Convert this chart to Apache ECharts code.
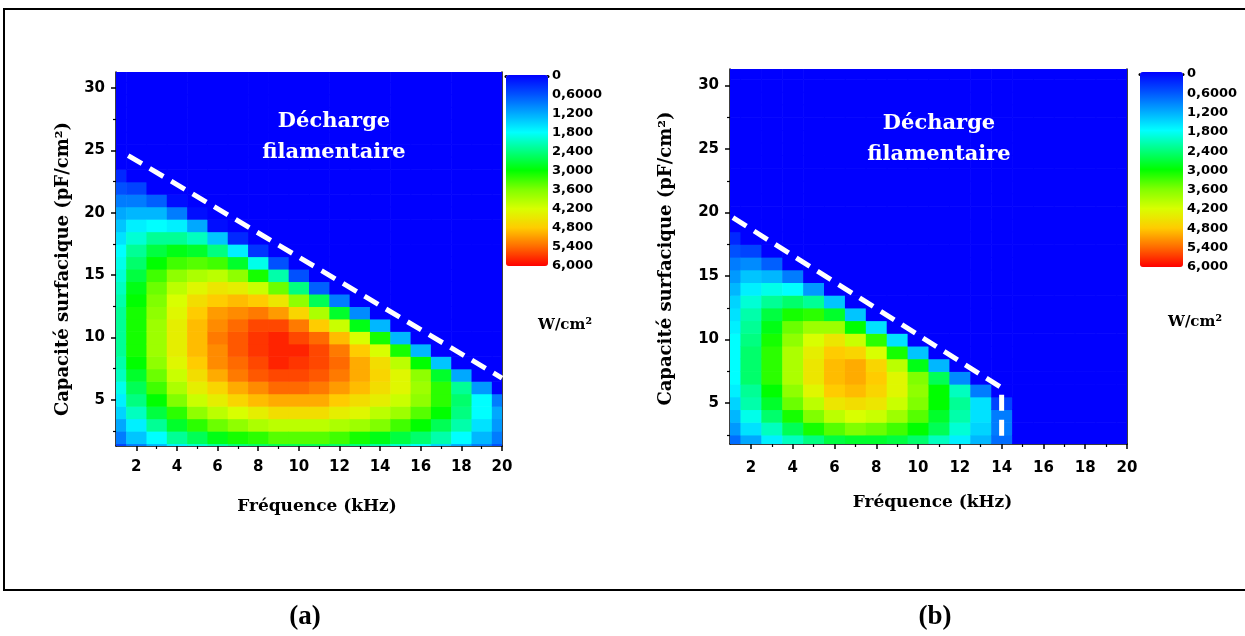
<!DOCTYPE html>
<html><head><meta charset="utf-8">
<script src="https://cdn.jsdelivr.net/npm/echarts@6/dist/echarts.min.js"></script>
<style>html,body{margin:0;padding:0;background:#fff}#c{width:1245px;height:636px}</style>
</head><body><div id="c"></div>
<script>
// Frequency (kHz) cell centres and surface capacitance (pF/cm²) cell centres
const freqCells = [1,2,3,4,5,6,7,8,9,10,11,12,13,14,15,16,17,18,19,20];
const capCells = [1,2,3,4,5,6,7,8,9,10,11,12,13,14,15,16,17,18,19,20,21,22,23,24,25,26,27,28,29,30,31];

// Power density (W/cm²), panel (a): one array per frequency column, values for capacitance 1..31
const powerA = [
  [0.5,0.9,1.2,1.5,1.7,1.9,2.1,2.2,2.3,2.3,2.3,2.3,2.2,2.1,2.0,1.9,1.8,1.6,1.4,1.2,0.9,0.6,0.3,0,0,0,0,0,0,0,0],
  [0.9,1.4,1.7,2.1,2.4,2.6,2.8,3.0,3.1,3.1,3.1,3.1,3.0,2.9,2.7,2.5,2.3,2.0,1.7,1.3,0.9,0.5,0,0,0,0,0,0,0,0,0],
  [1.3,1.8,2.3,2.7,3.0,3.3,3.5,3.7,3.8,3.8,3.8,3.7,3.6,3.5,3.3,3.0,2.7,2.3,1.8,1.3,0.7,0,0,0,0,0,0,0,0,0,0],
  [1.7,2.3,2.8,3.2,3.6,3.9,4.1,4.3,4.4,4.4,4.4,4.3,4.2,4.0,3.7,3.3,2.9,2.3,1.7,0.9,0.1,0,0,0,0,0,0,0,0,0,0],
  [2.0,2.6,3.2,3.7,4.1,4.4,4.6,4.8,4.9,4.9,4.9,4.8,4.6,4.3,3.9,3.4,2.8,2.1,1.2,0.1,0,0,0,0,0,0,0,0,0,0,0],
  [2.2,2.9,3.5,4.0,4.4,4.7,5.0,5.2,5.2,5.3,5.2,5.1,4.8,4.5,4.0,3.3,2.4,1.4,0.1,0,0,0,0,0,0,0,0,0,0,0,0],
  [2.4,3.1,3.7,4.2,4.7,5.0,5.3,5.4,5.5,5.5,5.4,5.2,4.9,4.4,3.7,2.8,1.7,0.3,0,0,0,0,0,0,0,0,0,0,0,0,0],
  [2.5,3.2,3.9,4.4,4.9,5.2,5.5,5.6,5.7,5.7,5.6,5.3,4.8,4.1,3.1,1.9,0.4,0,0,0,0,0,0,0,0,0,0,0,0,0,0],
  [2.6,3.4,4.0,4.6,5.0,5.4,5.6,5.8,5.8,5.8,5.6,5.1,4.5,3.5,2.2,0.6,0,0,0,0,0,0,0,0,0,0,0,0,0,0,0],
  [2.6,3.4,4.0,4.6,5.0,5.4,5.6,5.7,5.8,5.6,5.3,4.7,3.7,2.4,0.6,0,0,0,0,0,0,0,0,0,0,0,0,0,0,0,0],
  [2.6,3.4,4.0,4.6,5.0,5.3,5.5,5.6,5.6,5.4,4.8,3.9,2.6,0.7,0,0,0,0,0,0,0,0,0,0,0,0,0,0,0,0,0],
  [2.5,3.3,3.9,4.4,4.8,5.1,5.3,5.4,5.3,4.9,4.1,2.8,0.9,0,0,0,0,0,0,0,0,0,0,0,0,0,0,0,0,0,0],
  [2.4,3.1,3.8,4.3,4.6,4.9,5.0,5.0,4.8,4.2,2.9,1.0,0,0,0,0,0,0,0,0,0,0,0,0,0,0,0,0,0,0,0],
  [2.2,2.9,3.6,4.0,4.4,4.6,4.7,4.6,4.2,3.1,1.3,0,0,0,0,0,0,0,0,0,0,0,0,0,0,0,0,0,0,0,0],
  [2.0,2.7,3.3,3.8,4.1,4.3,4.3,4.0,3.1,1.3,0,0,0,0,0,0,0,0,0,0,0,0,0,0,0,0,0,0,0,0,0],
  [1.8,2.5,3.0,3.4,3.7,3.8,3.7,3.0,1.3,0,0,0,0,0,0,0,0,0,0,0,0,0,0,0,0,0,0,0,0,0,0],
  [1.5,2.2,2.6,3.0,3.2,3.2,2.8,1.4,0,0,0,0,0,0,0,0,0,0,0,0,0,0,0,0,0,0,0,0,0,0,0],
  [1.2,1.8,2.2,2.4,2.5,2.3,1.2,0,0,0,0,0,0,0,0,0,0,0,0,0,0,0,0,0,0,0,0,0,0,0,0],
  [0.9,1.3,1.6,1.8,1.8,1.1,0,0,0,0,0,0,0,0,0,0,0,0,0,0,0,0,0,0,0,0,0,0,0,0,0],
  [0.6,0.9,1.1,1.2,0.9,0,0,0,0,0,0,0,0,0,0,0,0,0,0,0,0,0,0,0,0,0,0,0,0,0,0]
];

// Power density (W/cm²), panel (b)
const powerB = [
  [0.5,0.8,1.1,1.3,1.5,1.7,1.8,1.8,1.8,1.8,1.7,1.6,1.5,1.3,1.1,0.9,0.6,0.3,0,0,0,0,0,0,0,0,0,0,0,0,0],
  [0.8,1.2,1.6,1.9,2.2,2.3,2.5,2.5,2.5,2.4,2.3,2.2,2.0,1.7,1.4,1.0,0.5,0,0,0,0,0,0,0,0,0,0,0,0,0,0],
  [1.1,1.7,2.1,2.5,2.8,3.0,3.2,3.2,3.2,3.1,2.9,2.7,2.3,1.9,1.3,0.7,0,0,0,0,0,0,0,0,0,0,0,0,0,0,0],
  [1.4,2.1,2.6,3.1,3.5,3.7,3.9,3.9,3.9,3.7,3.5,3.1,2.5,1.8,0.9,0,0,0,0,0,0,0,0,0,0,0,0,0,0,0,0],
  [1.6,2.4,3.1,3.6,4.0,4.3,4.5,4.5,4.4,4.2,3.8,3.2,2.3,1.1,0,0,0,0,0,0,0,0,0,0,0,0,0,0,0,0,0],
  [1.8,2.7,3.4,4.0,4.5,4.8,4.9,4.9,4.8,4.5,3.8,2.8,1.4,0,0,0,0,0,0,0,0,0,0,0,0,0,0,0,0,0,0],
  [1.9,2.8,3.6,4.2,4.6,4.9,5.0,5.0,4.7,4.1,3.0,1.4,0,0,0,0,0,0,0,0,0,0,0,0,0,0,0,0,0,0,0],
  [1.9,2.8,3.5,4.1,4.5,4.7,4.8,4.7,4.2,3.2,1.6,0,0,0,0,0,0,0,0,0,0,0,0,0,0,0,0,0,0,0,0],
  [1.9,2.7,3.3,3.8,4.1,4.3,4.3,4.0,3.1,1.6,0,0,0,0,0,0,0,0,0,0,0,0,0,0,0,0,0,0,0,0,0],
  [1.8,2.5,3.0,3.4,3.6,3.7,3.6,2.9,1.4,0,0,0,0,0,0,0,0,0,0,0,0,0,0,0,0,0,0,0,0,0,0],
  [1.6,2.1,2.6,2.8,3.0,3.0,2.6,1.3,0,0,0,0,0,0,0,0,0,0,0,0,0,0,0,0,0,0,0,0,0,0,0],
  [1.3,1.7,2.0,2.2,2.3,2.1,1.0,0,0,0,0,0,0,0,0,0,0,0,0,0,0,0,0,0,0,0,0,0,0,0,0],
  [1.0,1.3,1.5,1.6,1.6,0.9,0,0,0,0,0,0,0,0,0,0,0,0,0,0,0,0,0,0,0,0,0,0,0,0,0],
  [0.6,0.8,0.9,0.9,0.5,0,0,0,0,0,0,0,0,0,0,0,0,0,0,0,0,0,0,0,0,0,0,0,0,0,0],
  [0,0,0,0,0,0,0,0,0,0,0,0,0,0,0,0,0,0,0,0,0,0,0,0,0,0,0,0,0,0,0],
  [0,0,0,0,0,0,0,0,0,0,0,0,0,0,0,0,0,0,0,0,0,0,0,0,0,0,0,0,0,0,0],
  [0,0,0,0,0,0,0,0,0,0,0,0,0,0,0,0,0,0,0,0,0,0,0,0,0,0,0,0,0,0,0],
  [0,0,0,0,0,0,0,0,0,0,0,0,0,0,0,0,0,0,0,0,0,0,0,0,0,0,0,0,0,0,0],
  [0,0,0,0,0,0,0,0,0,0,0,0,0,0,0,0,0,0,0,0,0,0,0,0,0,0,0,0,0,0,0],
  [0,0,0,0,0,0,0,0,0,0,0,0,0,0,0,0,0,0,0,0,0,0,0,0,0,0,0,0,0,0,0]
];

// Dashed discharge boundaries [frequency, capacitance]
const boundaryA = [[1.6, 24.6], [20, 6.75]];
const boundaryB = [[1.14, 19.6], [14, 6.2], [14, 1.78]];

// Tick values and labels
const xTicks = [2,4,6,8,10,12,14,16,18,20];
const xMinorTicks = [3,5,7,9,11,13,15,17,19];
const yTicks = [5,10,15,20,25,30];
const yMinorTicks = [2.5,7.5,12.5,17.5,22.5,27.5];
const cbValues = [0,0.6,1.2,1.8,2.4,3.0,3.6,4.2,4.8,5.4,6.0];
const cbLabels = ['0','0,6000','1,200','1,800','2,400','3,000','3,600','4,200','4,800','5,400','6,000'];
const colorStops = ['#0000ff','#0050ff','#00a8ff','#00ffff','#00ff80','#00ff00','#80ff00','#d8ff00','#ffcc00','#ff6a00','#ff0000'];

function cells(cols) {
  const out = [];
  cols.forEach((col, i) => col.forEach((v, j) => out.push([freqCells[i], capCells[j], v])));
  return out;
}

const tickFont = {fontFamily: 'DejaVu Sans', fontWeight: 'bold', fontSize: 15, color: '#000'};
const xNameFont = {fontFamily: 'DejaVu Serif', fontWeight: 'bold', fontSize: 17, color: '#000'};
const yNameFont = {fontFamily: 'DejaVu Serif', fontWeight: 'bold', fontSize: 18, color: '#000'};
const blackLine = {show: true, lineStyle: {color: '#000', width: 1.5}};

function mainX(grid, margin, gap, pad) {
  return [
    {gridIndex: grid, type: 'value', min: 1, max: 20, position: 'bottom',
     axisLine: blackLine, splitLine: {show: false},
     axisTick: {show: true, customValues: xTicks, length: 5, lineStyle: {color: '#000', width: 1.5}},
     axisLabel: {customValues: xTicks, margin: margin, ...tickFont},
     name: 'Fréquence (kHz)', nameLocation: 'middle', nameGap: gap, nameTextStyle: {...xNameFont, padding: pad}},
    {gridIndex: grid, type: 'value', min: 1, max: 20, position: 'bottom',
     axisLine: {show: false}, splitLine: {show: false}, axisLabel: {show: false},
     axisTick: {show: true, customValues: xMinorTicks, length: 3, lineStyle: {color: '#000', width: 1.2}}}
  ];
}
function mainY(grid, ymin, gap, pad) {
  return [
    {gridIndex: grid, type: 'value', min: ymin, max: 31.3, position: 'left',
     axisLine: blackLine, splitLine: {show: false},
     axisTick: {show: true, customValues: yTicks, length: 5, lineStyle: {color: '#000', width: 1.5}},
     axisLabel: {customValues: yTicks, margin: 11, ...tickFont},
     name: 'Capacité surfacique (pF/cm²)', nameLocation: 'middle', nameGap: gap, nameRotate: 90,
     nameTextStyle: {...yNameFont, padding: pad}},
    {gridIndex: grid, type: 'value', min: ymin, max: 31.3, position: 'left',
     axisLine: {show: false}, splitLine: {show: false}, axisLabel: {show: false},
     axisTick: {show: true, customValues: yMinorTicks, length: 3, lineStyle: {color: '#000', width: 1.2}}},
    {gridIndex: grid, type: 'value', min: ymin, max: 31.3, position: 'right',
     axisLine: blackLine, splitLine: {show: false}, axisLabel: {show: false}, axisTick: {show: false}}
  ];
}
function cbAxes(grid) {
  return {
    x: {gridIndex: grid, type: 'value', min: 0, max: 1, position: 'top',
        axisLine: {show: true, lineStyle: {color: '#000', width: 3}}, axisTick: {show: false},
        axisLabel: {show: false}, splitLine: {show: false}},
    y: {gridIndex: grid, type: 'value', min: 0, max: 6, inverse: true, position: 'right',
        axisLine: {show: false}, axisTick: {show: false}, splitLine: {show: false},
        axisLabel: {customValues: cbValues, margin: 4, fontFamily: 'DejaVu Sans', fontWeight: 'bold', fontSize: 13, color: '#000',
                    formatter: v => cbLabels[Math.round(v / 0.6)]}}
  };
}

function cellRender(params, api) {
  const x = api.value(0), y = api.value(1);
  const p0 = api.coord([x - 0.5, y + 0.5]);
  const p1 = api.coord([x + 0.5, y - 0.5]);
  return {type: 'rect', shape: {x: p0[0], y: p0[1], width: p1[0] - p0[0] + 0.6, height: p1[1] - p0[1] + 0.6},
          style: {fill: api.visual('color')}};
}

const cbA = cbAxes(2), cbB = cbAxes(3);
const xA = mainX(0, 14, 52, [0, 0, 0, 16]), xB = mainX(1, 17, 50, [0, 0, 0, 8]);
const yA = mainY(0, 1.3, 44, [0, 20, 0, 0]), yB = mainY(1, 1.78, 55, [0, 4, 0, 0]);

const serifWhite = 'bold 21px "DejaVu Serif"';
const option = {
  animation: false,
  backgroundColor: '#fff',
  grid: [
    {left: 116, top: 72, width: 386, height: 374},
    {left: 730, top: 69, width: 397, height: 375},
    {left: 506, top: 76, width: 42, height: 190},
    {left: 1140, top: 74, width: 43, height: 193}
  ],
  xAxis: [xA[0], xA[1], xB[0], xB[1], cbA.x, cbB.x],
  yAxis: [yA[0], yA[1], yA[2], yB[0], yB[1], yB[2], cbA.y, cbB.y],
  visualMap: [
    {type: 'continuous', seriesIndex: 0, dimension: 2, min: 0, max: 6, inverse: true, calculable: false,
     hoverLink: false, left: 506, top: 75, itemWidth: 42, itemHeight: 191, padding: 0, text: null,
     inRange: {color: colorStops}},
    {type: 'continuous', seriesIndex: 1, dimension: 2, min: 0, max: 6, inverse: true, calculable: false,
     hoverLink: false, left: 1140, top: 72, itemWidth: 43, itemHeight: 195, padding: 0, text: null,
     inRange: {color: colorStops}}
  ],
  series: [
    {type: 'custom', xAxisIndex: 0, yAxisIndex: 0, data: cells(powerA), renderItem: cellRender,
     encode: {x: 0, y: 1}, clip: true, silent: true, z: 1},
    {type: 'custom', xAxisIndex: 2, yAxisIndex: 3, data: cells(powerB), renderItem: cellRender,
     encode: {x: 0, y: 1}, clip: true, silent: true, z: 1},
    {type: 'line', xAxisIndex: 0, yAxisIndex: 0, data: boundaryA, symbol: 'none', silent: true, clip: true, z: 3,
     lineStyle: {color: '#fff', width: 5, type: [16, 9], cap: 'butt'}},
    {type: 'line', xAxisIndex: 2, yAxisIndex: 3, data: boundaryB, symbol: 'none', silent: true, clip: true, z: 3,
     lineStyle: {color: '#fff', width: 5, type: [16, 9], cap: 'butt'}}
  ],
  graphic: [
    {type: 'rect', z: 100, shape: {x: 4, y: 9, width: 1260, height: 581}, style: {fill: null, stroke: '#000', lineWidth: 2}, silent: true},
    {type: 'text', z: 100, x: 334, y: 122, style: {text: 'Décharge', fill: '#fff', font: serifWhite, textAlign: 'center', textVerticalAlign: 'middle'}},
    {type: 'text', z: 100, x: 334, y: 153, style: {text: 'filamentaire', fill: '#fff', font: serifWhite, textAlign: 'center', textVerticalAlign: 'middle'}},
    {type: 'text', z: 100, x: 939, y: 124, style: {text: 'Décharge', fill: '#fff', font: serifWhite, textAlign: 'center', textVerticalAlign: 'middle'}},
    {type: 'text', z: 100, x: 939, y: 155, style: {text: 'filamentaire', fill: '#fff', font: serifWhite, textAlign: 'center', textVerticalAlign: 'middle'}},
    {type: 'text', z: 100, x: 565, y: 325, style: {text: 'W/cm²', fill: '#000', font: 'bold 15px "DejaVu Serif"', textAlign: 'center', textVerticalAlign: 'middle'}},
    {type: 'text', z: 100, x: 1195, y: 322, style: {text: 'W/cm²', fill: '#000', font: 'bold 15px "DejaVu Serif"', textAlign: 'center', textVerticalAlign: 'middle'}},
    {type: 'text', z: 100, x: 305, y: 617, style: {text: '(a)', fill: '#000', font: 'bold 27px "Liberation Serif"', textAlign: 'center', textVerticalAlign: 'middle'}},
    {type: 'text', z: 100, x: 935, y: 617, style: {text: '(b)', fill: '#000', font: 'bold 27px "Liberation Serif"', textAlign: 'center', textVerticalAlign: 'middle'}}
  ]
};

echarts.init(document.getElementById('c'), null, {renderer: 'canvas'}).setOption(option);
</script>
</body></html>
